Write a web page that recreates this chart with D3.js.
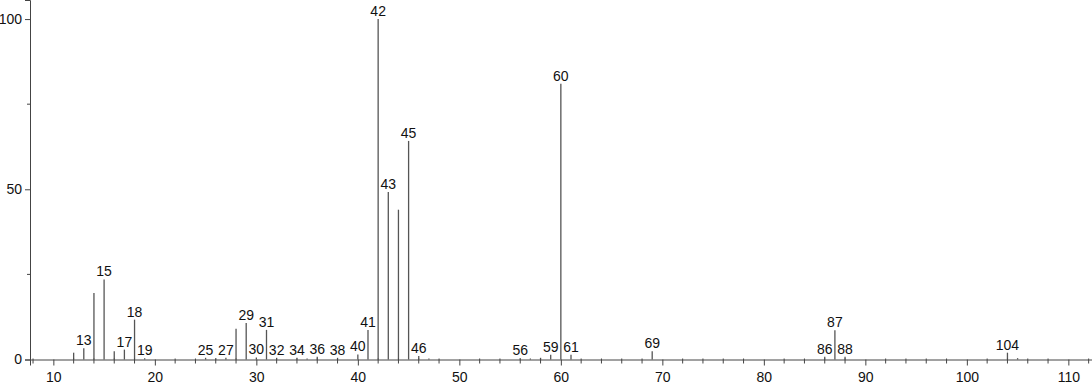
<!DOCTYPE html>
<html>
<head>
<meta charset="utf-8">
<script src="https://cdn.jsdelivr.net/npm/d3@7"></script>
<style>
  body { margin: 0; background: #fff; }
  text { font-family: Arial, "Liberation Sans", sans-serif; }
</style>
</head>
<body>
<div id="chart"></div>
<script>
// m/z values and relative intensities
const mz = [12, 13, 14, 15, 16, 17, 18, 19, 25, 26, 27, 28, 29, 30, 31, 32, 34, 35, 36, 38,
            40, 41, 42, 43, 44, 45, 46, 47, 56, 57, 58, 59, 60, 61, 69, 86, 87, 88, 104, 105]
const intensity = [2.0, 3.3, 19.5, 23.5, 2.4, 2.9, 11.7, 0.4, 0.5, 0.4, 0.5, 9.0, 10.7, 0.6, 8.7, 0.5, 0.5, 0.3, 0.8, 0.5,
                   1.5, 8.7, 100, 49.2, 44.0, 64.2, 1.0, 0.3, 0.4, 0.3, 0.5, 1.4, 81.0, 1.4, 2.4, 0.8, 8.6, 0.8, 2.0, 0.4]
const labeled = [13, 15, 17, 18, 19, 25, 27, 29, 30, 31, 32, 34, 36, 38, 40, 41, 42, 43, 45, 46,
                 56, 59, 60, 61, 69, 86, 87, 88, 104]
const xMajor = [10, 20, 30, 40, 50, 60, 70, 80, 90, 100, 110]
const xMinor = d3.range(8, 113, 2).filter(v => v % 10 !== 0)
const yMajor = [0, 50, 100]
const yMinor = [25, 75]

const width = 1092, height = 384
const x = d3.scaleLinear().domain([7.7, 112.33]).range([30, 1092])
const y = d3.scaleLinear().domain([0, 105.6]).range([359.5, 0])

const svg = d3.select("#chart").append("svg")
    .attr("width", width)
    .attr("height", height)

const peaks = mz.map((m, i) => ({ m: m, v: intensity[i] }))

// peaks
svg.append("g").selectAll("line")
    .data(peaks)
    .join("line")
    .attr("x1", d => x(d.m)).attr("x2", d => x(d.m))
    .attr("y1", y(0)).attr("y2", d => y(d.v))
    .attr("stroke", "#555")
    .attr("stroke-width", 1.3)

// peak labels
svg.append("g").selectAll("text")
    .data(peaks.filter(d => labeled.includes(d.m)))
    .join("text")
    .attr("x", d => x(d.m))
    .attr("y", d => y(d.v) - 3)
    .attr("text-anchor", "middle")
    .attr("font-size", 14)
    .attr("fill", "#111")
    .text(d => d.m)

// x axis
const xAxis = svg.append("g")
    .attr("transform", `translate(0,${y(0)})`)
    .call(d3.axisBottom(x).tickValues(xMajor).tickSize(6).tickPadding(7).tickFormat(d3.format("d")))
xAxis.append("g").selectAll("line")
    .data(xMinor)
    .join("line")
    .attr("x1", d => x(d)).attr("x2", d => x(d))
    .attr("y1", -1).attr("y2", 4)
    .attr("stroke", "#444")

// y axis
const yAxis = svg.append("g")
    .attr("transform", "translate(30,0)")
    .call(d3.axisLeft(y).tickValues(yMajor).tickSize(5).tickPadding(3))
yAxis.append("g").selectAll("line")
    .data(yMinor)
    .join("line")
    .attr("x1", -3).attr("x2", 0)
    .attr("y1", d => y(d)).attr("y2", d => y(d))
    .attr("stroke", "#444")

svg.selectAll(".domain").attr("stroke", "#444")
svg.selectAll(".tick line").attr("stroke", "#444")
svg.selectAll(".tick text").attr("font-size", 14).attr("fill", "#111")
</script>
</body>
</html>
